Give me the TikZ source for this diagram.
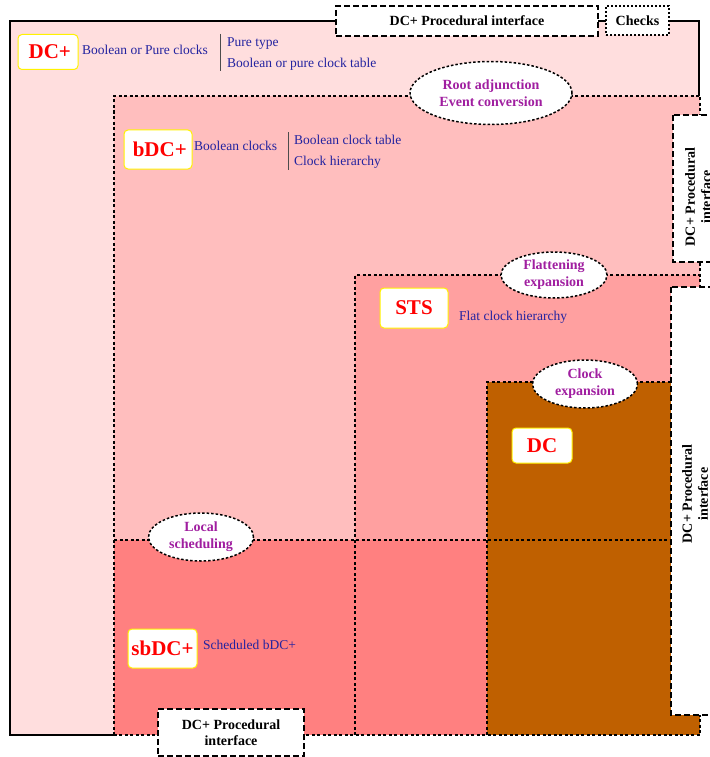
\documentclass[tikz,border=0pt]{standalone}
\usepackage{fontspec}
\setmainfont{Liberation Serif}
\usetikzlibrary{calc}
\usetikzlibrary{shapes.geometric}

\definecolor{dcpfill}{RGB}{255,222,222}
\definecolor{bdcpfill}{RGB}{255,190,190}
\definecolor{stsfill}{RGB}{255,160,160}
\definecolor{sbdcpfill}{RGB}{255,128,128}
\definecolor{dcfill}{RGB}{191,96,0}
\definecolor{lblblue}{RGB}{35,35,160}
\definecolor{opviolet}{RGB}{160,30,160}

\begin{document}
\begin{tikzpicture}[x=1pt,y=-1pt,
  regionline/.style={line width=1.8pt,dash pattern=on 3pt off 2.5pt},
  lang/.style={draw=yellow,line width=1pt,fill=white,rounded corners=4pt,inner sep=0pt,text=red,font=\bfseries\fontsize{21}{24}\selectfont},
  note/.style={text=lblblue,font=\fontsize{13.5}{21}\selectfont,inner sep=0pt,align=left,anchor=west},
  op/.style={ellipse,draw,fill=white,line width=1.5pt,dash pattern=on 2.5pt off 2pt,inner sep=0pt,text=opviolet,font=\bfseries\fontsize{14}{17}\selectfont,align=center},
  iface/.style={draw,fill=white,line width=1.3pt,dash pattern=on 6pt off 3pt,inner sep=0pt,font=\bfseries\fontsize{14}{16}\selectfont,align=center}]

\def\xL{10} \def\xB{114} \def\xS{355} \def\xD{487} \def\xI{671} \def\xR{700}
\def\yT{21} \def\yB{96} \def\yS{275} \def\yD{382} \def\ySb{540} \def\yE{735}

\useasboundingbox (0,0) rectangle (709,757);

\fill [dcpfill] (\xL,\yT) rectangle (699,\yE);
\fill [bdcpfill] (\xB,\yB) rectangle (\xR,\yE);
\fill [stsfill] (\xS,\yS) rectangle (\xR,\yE);
\fill [sbdcpfill] (\xB,\ySb) rectangle (\xR,\yE);
\fill [dcfill] (\xD,\yD) rectangle (\xR,\yE);

\draw [line width=1.8pt] (\xB,\yE) -- (\xL,\yE) -- (\xL,\yT) -- (699,\yT) -- (699,\yB);
\draw [regionline] (\xB,\yE) -- (\xB,\yB) -- (\xR,\yB) -- (\xR,\yE) -- cycle;
\draw [regionline] (\xS,\yE) -- (\xS,\yS) -- (\xR,\yS);
\draw [regionline] (\xB,\ySb) -- (\xI,\ySb);
\draw [regionline] (\xD,\yE) -- (\xD,\yD) -- (\xR,\yD);

\node [op,minimum width=162pt,minimum height=63pt] (E_root) at (491,93) {Root adjunction\\Event conversion};
\node [op,minimum width=106pt,minimum height=46pt] (E_flat) at (554,275) {Flattening\\expansion};
\node [op,minimum width=105pt,minimum height=48pt] (E_clock) at (585,384) {Clock\\expansion};
\node [op,minimum width=105pt,minimum height=48pt] (E_local) at (201,537) {Local\\scheduling};

\node [iface,minimum width=262pt,minimum height=30pt] (I_top) at (467,21) {DC+ Procedural interface};
\node [iface,dash pattern=on 2pt off 2pt,minimum width=63pt,minimum height=29pt] (I_checks) at (637.5,20.5) {Checks};
\draw [iface] (673,115) rectangle (723,262);
\node [font=\bfseries\fontsize{14}{16}\selectfont,align=center,rotate=90] (I_right1) at (698,197) {DC+ Procedural\\interface};
\draw [iface] (\xI,287) rectangle (719,715);
\node [font=\bfseries\fontsize{14}{16}\selectfont,align=center,rotate=90] (I_right2) at (695,494) {DC+ Procedural\\interface};
\node [iface,minimum width=146pt,minimum height=47pt] (I_bottom) at (231,732.5) {DC+ Procedural\\interface};

\node [lang,minimum width=60pt,minimum height=35pt] (L_DCp) at (48,52) {\,DC+};
\node [lang,minimum width=68pt,minimum height=39pt] (L_bDCp) at (158,149.5) {\,bDC+};
\node [lang,minimum width=68pt,minimum height=40pt] (L_STS) at (414,308) {STS};
\node [lang,minimum width=60pt,minimum height=35pt] (L_DC) at (542,445.5) {DC};
\node [lang,minimum width=69pt,minimum height=39pt] (L_sbDCp) at (162.5,648.5) {sbDC+};

\node [note] (N_DCp) at (82,50) {Boolean or Pure clocks};
\coordinate (B_DCp_t) at (220,34);
\coordinate (B_DCp_b) at (220,71);
\draw [black!70,line width=1pt] (B_DCp_t) -- (B_DCp_b);
\node [note] (N_DCp_r) at (227,54.5) {Pure type\\Boolean or pure clock table};

\node [note] (N_bDCp) at (194,146) {Boolean clocks};
\coordinate (B_bDCp_t) at (288,132);
\coordinate (B_bDCp_b) at (288,170);
\draw [black!70,line width=1pt] (B_bDCp_t) -- (B_bDCp_b);
\node [note] (N_bDCp_r) at (294,152) {Boolean clock table\\Clock hierarchy};

\node [note] (N_STS) at (459,317) {Flat clock hierarchy};
\node [note] (N_sbDCp) at (203,645) {Scheduled bDC+};
\end{tikzpicture}
\end{document}
